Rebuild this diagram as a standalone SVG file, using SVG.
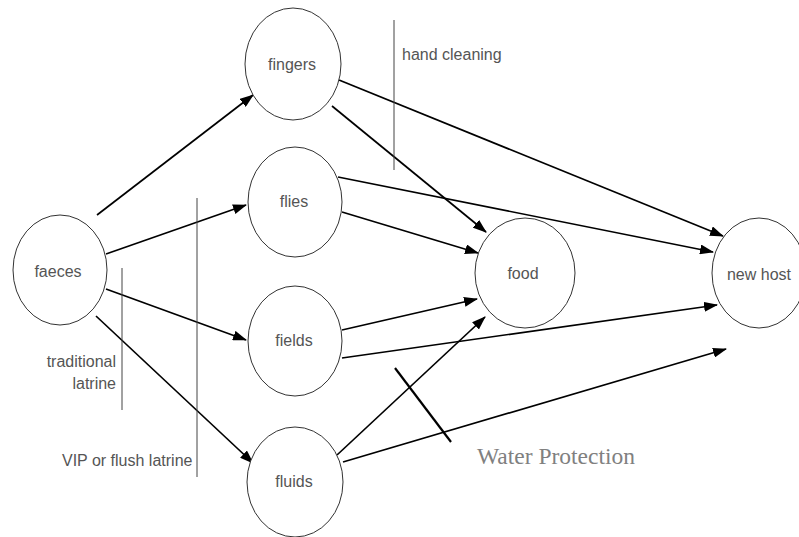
<svg xmlns="http://www.w3.org/2000/svg" width="799" height="537" viewBox="0 0 799 537">
<style>
.node ellipse{fill:#fff;stroke:#333;stroke-width:1}
.lbl{font-family:"Liberation Sans",Arial,sans-serif;font-size:16px;fill:#555;text-anchor:middle}
.note{font-family:"Liberation Sans",Arial,sans-serif;font-size:16px;fill:#555}
.edge{stroke:#000;stroke-width:1.7;fill:none;marker-end:url(#ah)}
.bar{stroke:#444;stroke-width:1;fill:none}
</style>
<defs>
<marker id="ah" markerUnits="userSpaceOnUse" markerWidth="14" markerHeight="10" refX="13" refY="5" orient="auto">
<path d="M0,0 L14,5 L0,10 Z" fill="#000"/>
</marker>
</defs>
<rect width="799" height="537" fill="#fff"/>
<g id="connectors">
<line class="edge" x1="97" y1="215" x2="253" y2="95"/>
<line class="edge" x1="106" y1="254" x2="246" y2="205"/>
<line class="edge" x1="106" y1="289" x2="246" y2="340"/>
<line class="edge" x1="96" y1="316" x2="253" y2="463"/>
<line class="edge" x1="332" y1="106" x2="486" y2="232"/>
<line class="edge" x1="339" y1="80" x2="723" y2="236"/>
<line class="edge" x1="342" y1="212" x2="478" y2="253"/>
<line class="edge" x1="338" y1="177" x2="713" y2="252"/>
<line class="edge" x1="342" y1="330" x2="477" y2="299"/>
<line class="edge" x1="342" y1="358" x2="717" y2="305"/>
<line class="edge" x1="337" y1="455" x2="485" y2="317"/>
<line class="edge" x1="343" y1="462" x2="726" y2="349"/>
</g>
<g id="barriers">
<line class="bar" x1="394" y1="20" x2="394" y2="170"/>
<line class="bar" x1="122" y1="268" x2="122" y2="410"/>
<line class="bar" x1="197" y1="198" x2="197" y2="477"/>
<line x1="395" y1="368" x2="451" y2="442" stroke="#000" stroke-width="2.2"/>
</g>
<g id="faeces" class="node"><ellipse cx="60" cy="270" rx="47" ry="55"/><text class="lbl" x="58" y="277">faeces</text></g>
<g id="fingers" class="node"><ellipse cx="293" cy="64" rx="48" ry="56"/><text class="lbl" x="292" y="70">fingers</text></g>
<g id="flies" class="node"><ellipse cx="295" cy="202" rx="47" ry="55"/><text class="lbl" x="294" y="207">flies</text></g>
<g id="fields" class="node"><ellipse cx="295" cy="341" rx="47" ry="55"/><text class="lbl" x="294" y="346">fields</text></g>
<g id="fluids" class="node"><ellipse cx="295" cy="482" rx="48" ry="55"/><text class="lbl" x="294" y="487">fluids</text></g>
<g id="food" class="node"><ellipse cx="525" cy="273" rx="50" ry="55"/><text class="lbl" x="523" y="279">food</text></g>
<g id="new-host" class="node"><ellipse cx="759" cy="273" rx="47" ry="55"/><text class="lbl" x="759" y="280">new host</text></g>
<g id="labels">
<text class="note" x="402" y="60">hand cleaning</text>
<text class="note" x="116" y="367" text-anchor="end">traditional</text>
<text class="note" x="116" y="389" text-anchor="end">latrine</text>
<text class="note" x="62" y="466">VIP or flush latrine</text>
<text x="477" y="464" font-family="'Liberation Serif','Times New Roman',serif" font-size="23.5" fill="#808080">Water Protection</text>
</g>
</svg>
